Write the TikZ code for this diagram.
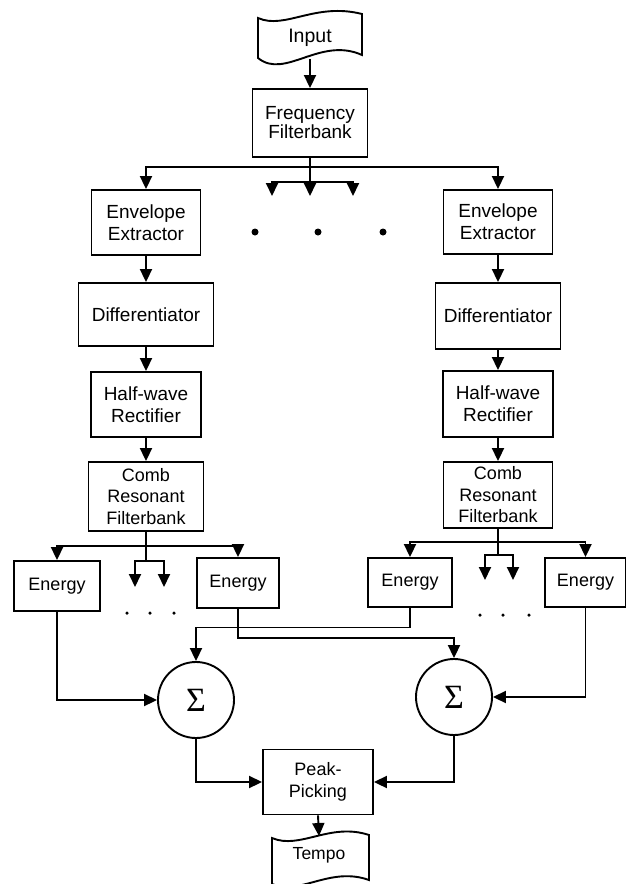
\documentclass[tikz,border=0pt]{standalone}
\usepackage{fontspec}
\setmainfont{Liberation Sans}
\newfontfamily\sigmafont{Liberation Serif}
\usetikzlibrary{arrows.meta,calc}
\begin{document}
\begin{tikzpicture}[x=1pt,y=-1pt,
  line width=1.9pt,
  arr/.style={-{Triangle[width=12pt,length=13pt]}},
  blk/.style={draw,align=center,inner sep=0pt,font=\fontsize{19}{22}\selectfont},
  en/.style={blk,font=\fontsize{18}{20}\selectfont,minimum height=49pt},
  sumnode/.style={draw,circle,minimum size=76pt,inner sep=0pt,font=\sigmafont\fontsize{34}{34}\selectfont},
  dotsm/.style={fill,circle,inner sep=0pt,minimum size=3.5pt},
  dotbg/.style={fill,circle,inner sep=0pt,minimum size=7pt}]
\useasboundingbox (0,0) rectangle (626,884);

% input flag
\node[font=\fontsize{19.5}{20}\selectfont,minimum height=40pt,minimum width=100pt,inner sep=0pt] (input) at (310,38) {Input};
\draw (258,18) .. controls (285,30) and (315,2) .. (362,14) -- (362,55)
  .. controls (320,36) and (285,80) .. (258,58) -- cycle;

\node[blk,minimum width=115pt,minimum height=68pt,font=\fontsize{19}{19}\selectfont] (ffb) at (310,123) {Frequency\\Filterbank};

% left column
\node[blk,minimum width=109pt,minimum height=65pt] (envL) at (146,222.5) {Envelope\\Extractor};
\node[blk,minimum width=135pt,minimum height=63pt] (difL) at (146,314.5) {Differentiator};
\node[blk,minimum width=110pt,minimum height=65pt] (hwL) at (146,404.5) {Half-wave\\Rectifier};
\node[blk,minimum width=115pt,minimum height=69pt,font=\fontsize{18}{21.5}\selectfont] (combL) at (146,496.5) {Comb\\Resonant\\Filterbank};

% right column
\node[blk,minimum width=109pt,minimum height=64pt] (envR) at (498,222) {Envelope\\Extractor};
\node[blk,minimum width=125pt,minimum height=66pt] (difR) at (498,316) {Differentiator};
\node[blk,minimum width=110pt,minimum height=66pt] (hwR) at (498,404) {Half-wave\\Rectifier};
\node[blk,minimum width=109pt,minimum height=66pt,font=\fontsize{18}{21.5}\selectfont] (combR) at (498,495) {Comb\\Resonant\\Filterbank};

% energy boxes
\node[en,minimum width=86pt,minimum height=50pt] (enL1) at (57,586) {Energy};
\node[en,minimum width=82pt,minimum height=50pt] (enL2) at (238,583) {Energy};
\node[en,minimum width=84pt] (enR1) at (410,582.5) {Energy};
\node[en,minimum width=81pt] (enR2) at (585.5,582.5) {Energy};

% sums
\node[sumnode] (sumL) at (196,700) {Σ};
\node[sumnode] (sumR) at (454,697) {Σ};

\node[blk,minimum width=110pt,minimum height=65pt,font=\fontsize{18}{21.5}\selectfont] (peak) at (318,782) {Peak-\\Picking};

% tempo flag
\node[font=\fontsize{17.5}{18}\selectfont,minimum height=36pt,minimum width=90pt,inner sep=0pt] (tempo) at (319,855) {Tempo};
\draw (272,838) .. controls (300,850) and (330,822) .. (369,835) -- (369,880)
  .. controls (330,866) and (300,896) .. (272,884) -- cycle;

% dots
\node[dotbg] (d1) at (255,232) {};
\node[dotbg] (d2) at (318,232) {};
\node[dotbg] (d3) at (383,232) {};
\node[dotsm] (l1) at (127,613) {};
\node[dotsm] (l2) at (150,613) {};
\node[dotsm] (l3) at (174,613) {};
\node[dotsm] (r1) at (480,615) {};
\node[dotsm] (r2) at (503,615) {};
\node[dotsm] (r3) at (529,615) {};

% top connections
\draw[arr] (input.south) -- (ffb.north);
\coordinate (busT) at (310,167);
\draw[arr] (busT) -| (envL.north);
\draw[arr] (busT) -| (envR.north);
\coordinate (sub) at (310,182);
\coordinate (a1) at (272,196);
\coordinate (a2) at (310,196);
\coordinate (a3) at (353,196);
\draw (ffb.south) -- (sub);
\draw[arr] (sub) -| (a1);
\draw[arr] (sub) -- (a2);
\draw[arr] (sub) -| (a3);

% columns
\draw[arr] (envL.south) -- (difL.north);
\draw[arr] (difL.south) -- (hwL.north);
\draw[arr] (hwL.south) -- (combL.north);
\draw[arr] (envR.south) -- (difR.north);
\draw[arr] (difR.south) -- (hwR.north);
\draw[arr] (hwR.south) -- (combR.north);

% left comb outputs
\coordinate (cbL) at (146,546);
\coordinate (cmL) at (146,561);
\coordinate (cmL1) at (135,587);
\coordinate (cmL2) at (164,587);
\draw (combL.south) -- (cbL) -- (cmL);
\draw[arr] (cbL) -| (enL1.north);
\draw[arr] (cbL) -| (enL2.north);
\draw[arr] (cmL) -| (cmL1);
\draw[arr] (cmL) -| (cmL2);

% right comb outputs
\coordinate (cbR) at (498,542);
\coordinate (cmR) at (498,555);
\coordinate (cmR1) at (485,580);
\coordinate (cmR2) at (513,580);
\draw (combR.south) -- (cbR) -- (cmR);
\draw[arr] (cbR) -| (enR1.north);
\draw[arr] (cbR) -| (enR2.north);
\draw[arr] (cmR) -| (cmR1);
\draw[arr] (cmR) -| (cmR2);

% energy to sums
\draw[arr] (enL1.south) |- (sumL.west);
\draw[arr] (enL2.south) -- ++(0,29) -| (sumR.north);
\draw[arr] (enR1.south) -- ++(0,19.5) -| (sumL.north);
\draw[arr] (enR2.south) |- (sumR.east);

% sums to peak
\draw[arr] (sumL.south) |- (peak.west);
\draw[arr] (sumR.south) |- (peak.east);
\draw[arr] (peak.south) -- (tempo.north);
\end{tikzpicture}
\end{document}
